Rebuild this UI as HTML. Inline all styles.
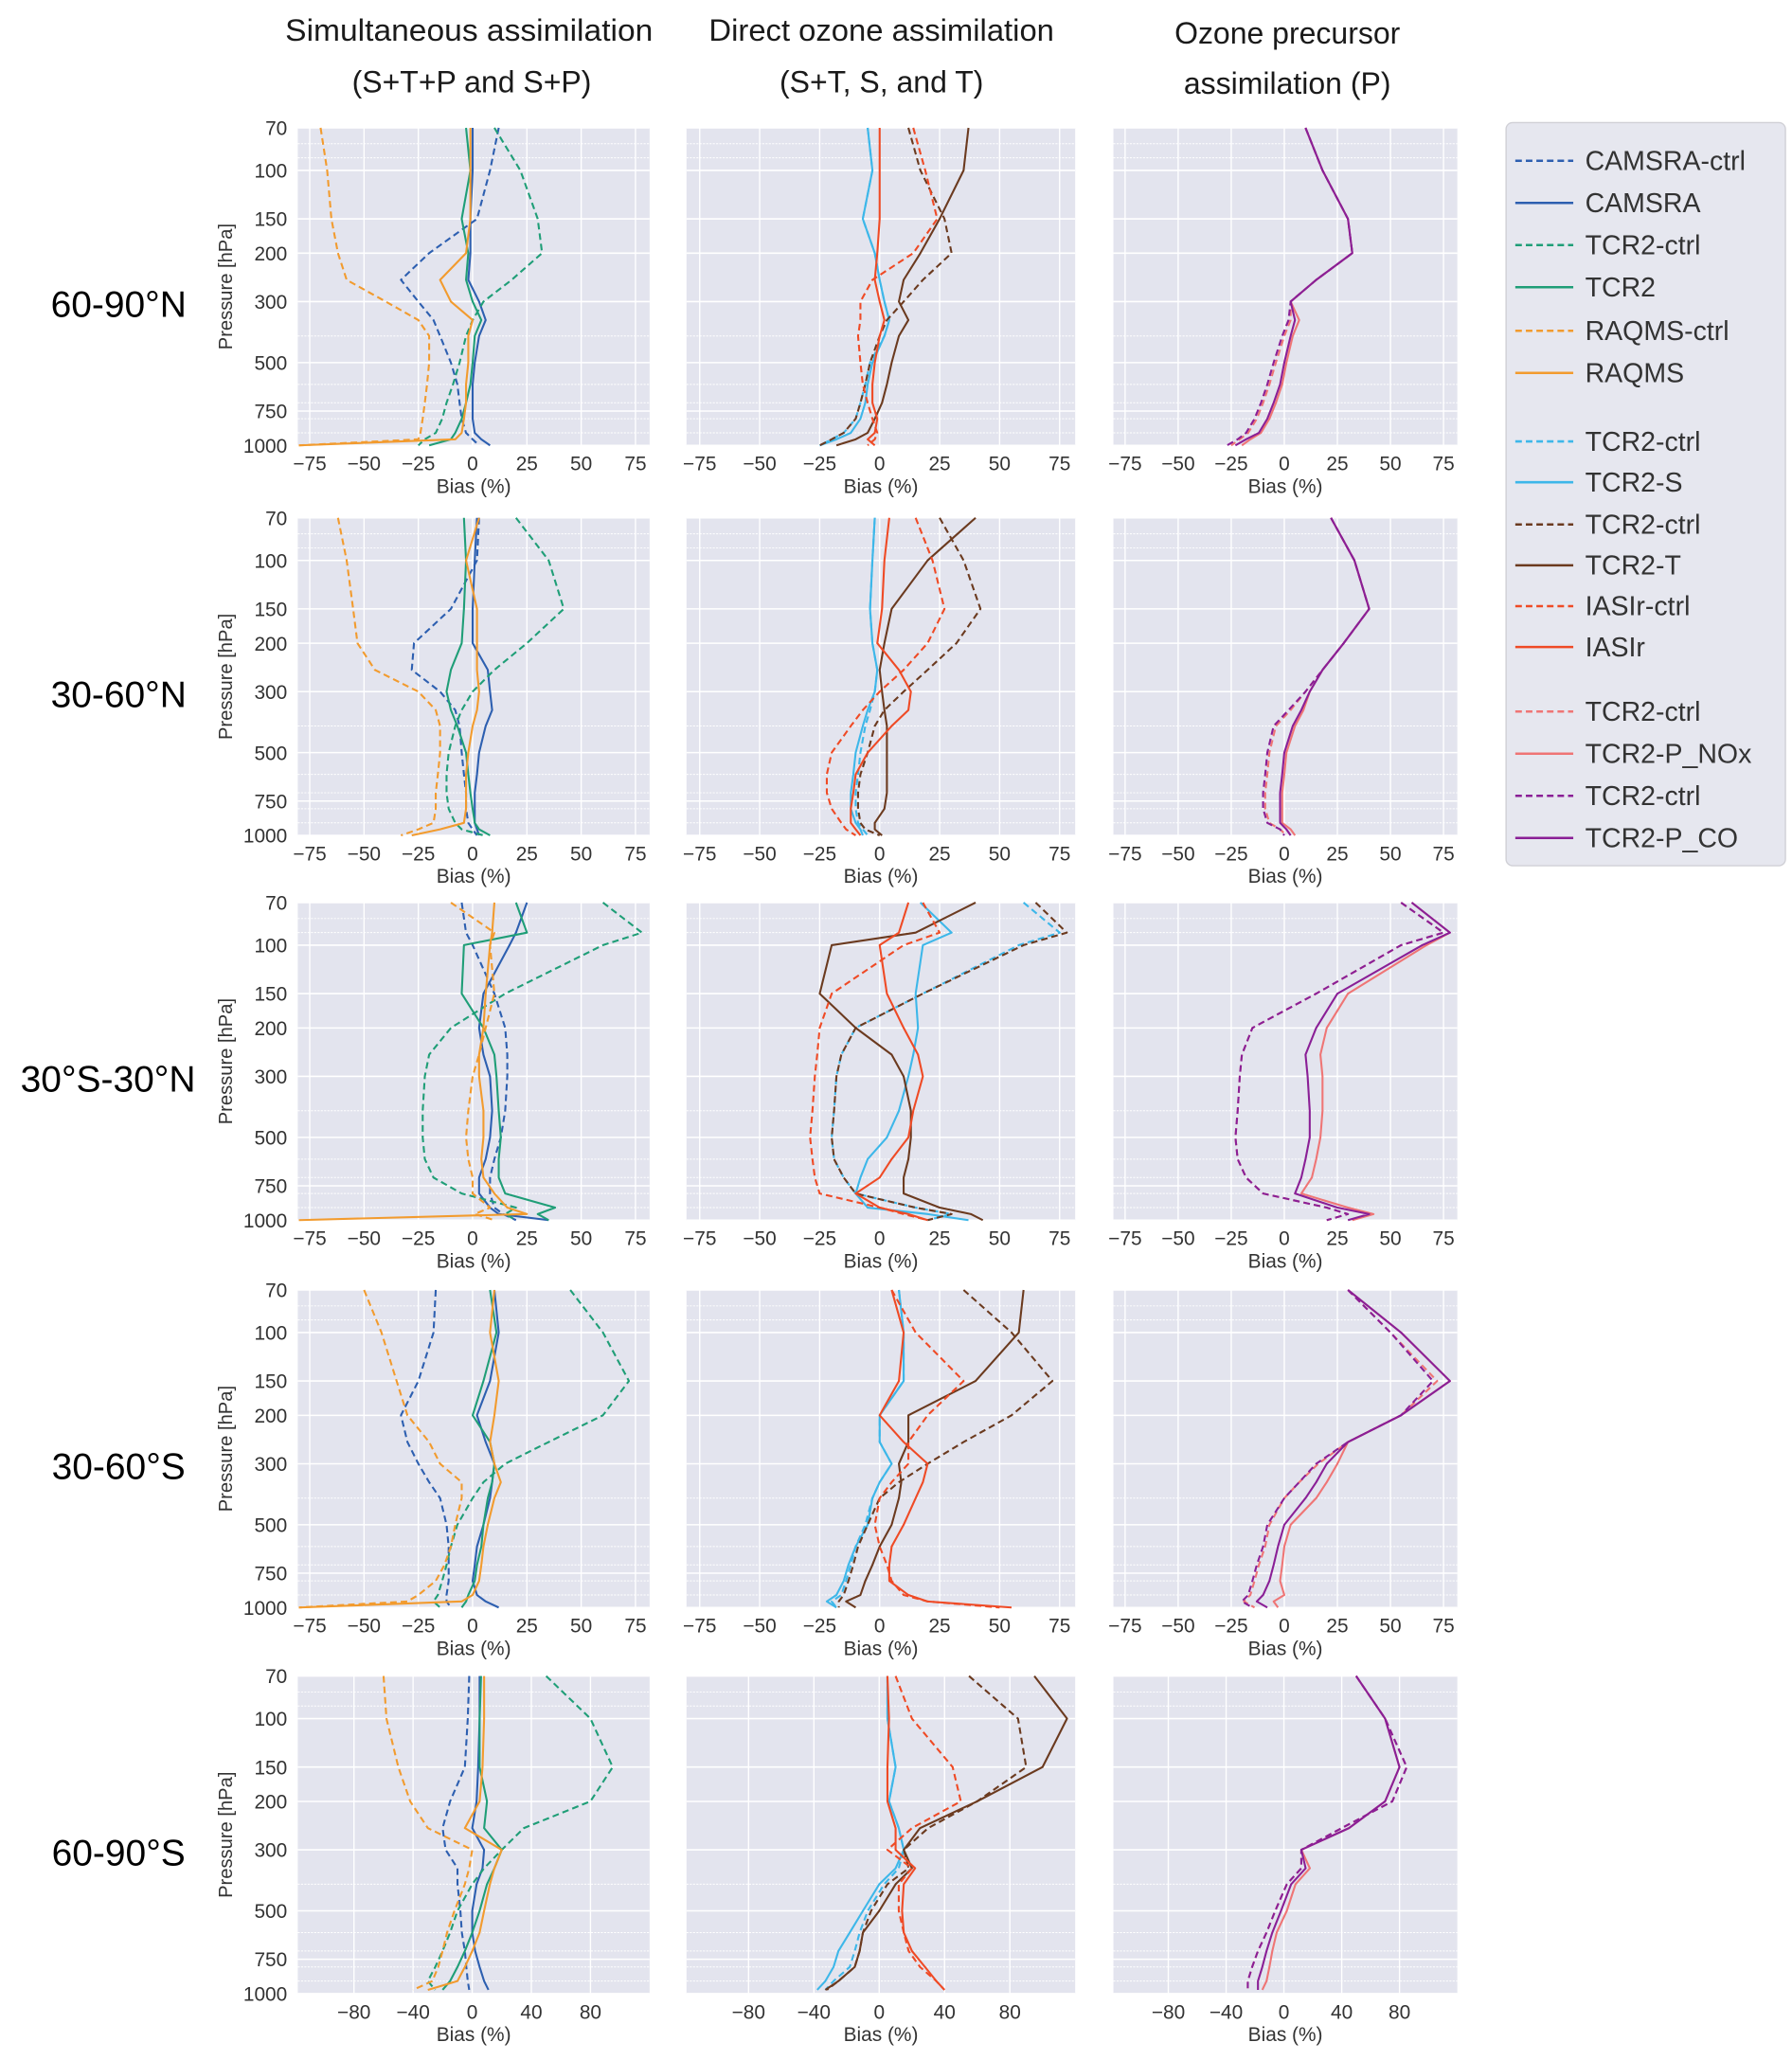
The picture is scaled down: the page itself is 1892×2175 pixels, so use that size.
<!DOCTYPE html>
<html><head><meta charset="utf-8"><style>
html,body{margin:0;padding:0;background:#fff;}
svg{display:block;font-family:"Liberation Sans",Arial,sans-serif;}
</style></head><body>
<svg id="fig" width="1892" height="2175" viewBox="0 0 1360 1563.4" xmlns="http://www.w3.org/2000/svg">
<g fill="#1a1a1a" font-size="23" text-anchor="middle">
<text x="356" y="31" textLength="279" lengthAdjust="spacingAndGlyphs">Simultaneous assimilation</text>
<text x="358" y="70">(S+T+P and S+P)</text>
<text x="669" y="31" textLength="262" lengthAdjust="spacingAndGlyphs">Direct ozone assimilation</text>
<text x="669" y="70">(S+T, S, and T)</text>
<text x="977" y="33">Ozone precursor</text>
<text x="977" y="71">assimilation (P)</text>
</g>
<g id="panels"></g>
<g id="legend"></g>
</svg>
<script>
// pressure levels
const L = [70,100,150,200,250,300,350,400,500,600,700,800,900,950,1000];
const L3 = [70,90,100,150,200,250,300,400,500,600,700,800,900,950,1000];
const L5 = [70,100,150,200,250,300,350,400,500,600,700,800,900,970];
const regions = ["60-90°N","30-60°N","30°S-30°N","30-60°S","60-90°S"];
const pTicks = [70,100,150,200,300,500,750,1000];
const pMinor = [80,90,400,600,700,800,900];
const xTicksA = [-75,-50,-25,0,25,50,75];
const xTicksB = [-80,-40,0,40,80];

// Row 1 (60-90N)
const r1_camsraCtrl = [12,8,2,-20,-33,-25,-18,-15,-10,-7,-6,-5,-3,0,3];
const r1_camsra = [0,0,-1,-1,-2,3,6,3,1,0,0,0,1,4,8];
const r1_tcr2Ctrl = [10,22,30,32,18,5,0,-3,-6,-9,-12,-14,-17,-22,-25];
const r1_tcr2 = [-3,-1,-5,-2,-3,0,4,1,0,-1,-3,-5,-8,-10,-20];
const r1_raqmsCtrl = [-70,-67,-65,-62,-58,-40,-25,-20,-20,-21,-22,-23,-24,-25,-80];
const r1_raqms = [-1,-1,-1,-3,-15,-10,0,-2,-2,-3,-3,-4,-5,-8,-80];
const r1_sCtrl = [-5,-3,-7,-2,0,2,4,2,-4,-6,-8,-10,-15,-20,-25];
const r1_s = [-5,-3,-7,-2,0,2,4,2,-3,-5,-6,-8,-12,-18,-25];
const r1_tCtrl = [12,17,27,30,18,10,3,0,-4,-6,-8,-10,-15,-20,-25];
const r1_t = [37,35,25,17,10,8,12,8,5,3,1,-2,-5,-10,-18];
const r1_iasiCtrl = [14,19,24,14,-3,-8,-8,-9,-8,-7,-5,-3,-1,-2,-5];
const r1_iasi = [0,0,0,-1,-2,0,2,0,-2,-3,-3,-1,-2,-5,-2];
const r1_noxCtrl = [10,18,30,32,15,3,3,0,-4,-7,-10,-13,-17,-21,-25];
const r1_nox = [10,18,30,32,15,3,7,4,1,-1,-4,-7,-11,-16,-20];
const r1_coCtrl = [10,18,30,32,15,3,2,-1,-5,-8,-11,-14,-18,-22,-27];
const r1_co = [10,18,30,32,15,3,5,3,0,-2,-5,-8,-12,-18,-23];

// Row 2 (30-60N)
const r2_camsraCtrl = [3,2,-10,-27,-28,-15,-8,-6,-5,-4,-3,-3,-2,0,2];
const r2_camsra = [2,1,0,0,7,8,9,6,3,2,1,1,1,2,3];
const r2_tcr2Ctrl = [20,35,42,25,10,0,-5,-8,-11,-12,-12,-11,-8,-5,5];
const r2_tcr2 = [-4,-3,-4,-5,-10,-12,-10,-7,-3,-2,-1,0,1,3,8];
const r2_raqmsCtrl = [-62,-58,-55,-53,-45,-25,-17,-15,-15,-16,-17,-17,-18,-25,-33];
const r2_raqms = [3,-3,2,2,2,3,2,0,-2,-3,-3,-3,-4,-15,-28];
const r2_sCtrl = [-2,-3,-4,-3,-1,-2,-4,-6,-8,-9,-10,-10,-9,-7,-5];
const r2_s = [-2,-3,-4,-3,-1,-2,-5,-7,-10,-11,-12,-12,-10,-8,-7];
const r2_tCtrl = [25,35,42,32,20,10,2,-2,-5,-8,-9,-9,-8,-6,0];
const r2_t = [40,20,5,2,0,1,2,3,3,3,3,2,-2,-2,1];
const r2_iasiCtrl = [15,22,27,20,10,0,-7,-12,-20,-22,-22,-20,-16,-14,-10];
const r2_iasi = [4,2,1,-1,8,13,12,5,-5,-10,-11,-12,-12,-10,-8];
const r2_noxCtrl = [22,33,40,28,18,10,3,-4,-7,-8,-9,-9,-7,-2,1];
const r2_nox = [22,33,40,28,18,12,9,5,1,0,-1,-1,-1,3,5];
const r2_coCtrl = [22,33,40,28,18,10,2,-5,-8,-9,-10,-10,-8,-2,0];
const r2_co = [22,33,40,28,18,12,8,4,0,-1,-2,-2,-2,1,3];

// Row 3 (30S-30N)
const r3_camsraCtrl = [-5,-3,0,10,15,16,16,15,13,10,8,8,10,14,20];
const r3_camsra = [25,20,17,5,3,5,8,9,8,6,3,3,8,12,35];
const r3_tcr2Ctrl = [60,78,60,15,-10,-20,-22,-23,-23,-22,-18,-5,20,15,20];
const r3_tcr2 = [20,25,-4,-5,5,10,11,12,13,12,12,15,38,30,35];
const r3_raqmsCtrl = [-10,10,8,10,6,3,0,-2,-3,-2,0,0,8,1,10];
const r3_raqms = [10,9,8,6,5,3,3,5,5,4,5,10,16,25,-80];
const r3_sCtrl = [60,75,58,18,-10,-16,-18,-19,-20,-19,-15,-10,15,30,20];
const r3_s = [17,30,18,15,16,14,12,8,3,-5,-8,-10,-5,20,37];
const r3_tCtrl = [65,78,60,18,-10,-16,-18,-19,-20,-19,-15,-10,15,30,20];
const r3_t = [40,15,-20,-25,-10,5,10,13,13,12,10,10,25,38,43];
const r3_iasiCtrl = [18,25,10,-20,-25,-26,-27,-28,-29,-28,-27,-25,0,10,20];
const r3_iasi = [12,8,0,3,10,16,18,14,12,5,0,-10,0,12,20];
const r3_noxCtrl = [55,75,55,15,-15,-20,-21,-22,-23,-22,-18,-10,20,30,20];
const r3_nox = [60,78,67,30,20,17,18,18,17,15,13,8,30,42,32];
const r3_coCtrl = [55,75,55,15,-15,-20,-21,-22,-23,-22,-18,-10,20,30,20];
const r3_co = [60,78,65,25,15,10,11,12,12,10,8,5,25,40,30];

// Row 4 (30-60S)
const r4_camsraCtrl = [-17,-18,-25,-33,-30,-25,-20,-15,-12,-11,-11,-11,-12,-12,-10];
const r4_camsra = [10,12,8,2,6,10,9,8,5,2,1,0,2,6,12];
const r4_tcr2Ctrl = [45,60,72,60,35,15,5,0,-7,-10,-12,-14,-16,-18,-15];
const r4_tcr2 = [8,11,5,0,8,10,9,7,5,4,2,1,-2,-3,-5];
const r4_raqmsCtrl = [-50,-42,-35,-30,-20,-15,-5,-5,-8,-10,-13,-17,-25,-30,-80];
const r4_raqms = [10,8,12,10,8,10,13,10,7,5,4,3,0,-5,-80];
const r4_sCtrl = [8,10,10,0,0,5,0,-3,-6,-10,-12,-14,-16,-20,-18];
const r4_s = [8,10,10,0,0,5,0,-3,-5,-10,-13,-15,-18,-22,-18];
const r4_tCtrl = [35,55,72,55,35,20,8,0,-5,-9,-11,-13,-15,-17,-17];
const r4_t = [60,58,40,12,12,8,9,8,5,0,-3,-6,-8,-14,-10];
const r4_iasiCtrl = [5,15,35,20,12,12,5,0,-2,0,3,5,10,20,50];
const r4_iasi = [5,10,8,0,10,20,18,15,10,5,4,4,12,20,55];
const r4_noxCtrl = [30,50,72,55,30,16,7,0,-7,-9,-12,-14,-16,-19,-14];
const r4_nox = [30,55,78,55,30,25,20,15,3,0,-1,-2,0,-5,-3];
const r4_coCtrl = [30,50,70,55,30,15,7,0,-8,-10,-13,-15,-17,-20,-15];
const r4_co = [30,55,78,55,30,20,15,10,0,-3,-5,-7,-10,-13,-8];

// Row 5 (60-90S)
const r5_camsraCtrl = [-2,-3,-5,-15,-20,-18,-10,-10,-8,-7,-5,-4,-3,-2];
const r5_camsra = [5,5,4,3,0,8,7,3,0,0,2,5,8,11];
const r5_tcr2Ctrl = [50,80,95,80,35,20,8,0,-10,-15,-20,-25,-30,-25];
const r5_tcr2 = [6,5,5,10,8,20,15,10,5,0,-5,-10,-15,-20];
const r5_raqmsCtrl = [-60,-58,-50,-42,-30,0,-2,-5,-12,-17,-20,-23,-27,-40];
const r5_raqms = [8,8,7,5,-5,20,15,12,8,5,0,-5,-10,-30];
const r5_sCtrl = [5,5,10,6,12,15,12,3,-7,-12,-15,-18,-28,-33];
const r5_s = [5,5,10,6,12,15,10,0,-10,-18,-25,-28,-33,-38];
const r5_tCtrl = [55,85,90,60,30,15,18,5,-5,-10,-12,-15,-25,-32];
const r5_t = [95,115,100,60,25,15,20,10,0,-10,-12,-15,-25,-33];
const r5_iasiCtrl = [10,20,45,50,20,5,20,12,12,15,18,25,35,40];
const r5_iasi = [5,6,5,5,10,10,22,15,14,15,20,28,35,40];
const r5_noxCtrl = [50,70,85,75,40,12,12,2,-6,-12,-18,-22,-25,-25];
const r5_nox = [50,70,80,70,45,12,18,8,2,-5,-8,-10,-12,-15];
const r5_coCtrl = [50,70,85,75,40,12,12,2,-6,-12,-18,-22,-25,-25];
const r5_co = [50,70,80,70,45,12,15,5,-2,-8,-12,-15,-18,-18];

const C = {camsra:"#2d5fb0",tcr2:"#1f9e77",raqms:"#f29b2e",s:"#3db7e9",t:"#6b3a1f",iasi:"#ef4a25",nox:"#ef7575",co:"#8a1f96"};
const DASH = "5,3";

const rowsData = [
 {lev:L, p:[[r1_camsraCtrl,C.camsra,1,"camsra-ctrl"],[r1_camsra,C.camsra,0,"camsra"],[r1_tcr2Ctrl,C.tcr2,1,"tcr2-ctrl"],[r1_tcr2,C.tcr2,0,"tcr2"],[r1_raqmsCtrl,C.raqms,1,"raqms-ctrl"],[r1_raqms,C.raqms,0,"raqms"]],
  q:[[r1_sCtrl,C.s,1,"tcr2-ctrl-s"],[r1_s,C.s,0,"tcr2-s"],[r1_tCtrl,C.t,1,"tcr2-ctrl-t"],[r1_t,C.t,0,"tcr2-t"],[r1_iasiCtrl,C.iasi,1,"iasir-ctrl"],[r1_iasi,C.iasi,0,"iasir"]],
  r:[[r1_noxCtrl,C.nox,1,"tcr2-ctrl-nox"],[r1_nox,C.nox,0,"tcr2-p-nox"],[r1_coCtrl,C.co,1,"tcr2-ctrl-co"],[r1_co,C.co,0,"tcr2-p-co"]]},
 {lev:L, p:[[r2_camsraCtrl,C.camsra,1,"camsra-ctrl"],[r2_camsra,C.camsra,0,"camsra"],[r2_tcr2Ctrl,C.tcr2,1,"tcr2-ctrl"],[r2_tcr2,C.tcr2,0,"tcr2"],[r2_raqmsCtrl,C.raqms,1,"raqms-ctrl"],[r2_raqms,C.raqms,0,"raqms"]],
  q:[[r2_sCtrl,C.s,1,"tcr2-ctrl-s"],[r2_s,C.s,0,"tcr2-s"],[r2_tCtrl,C.t,1,"tcr2-ctrl-t"],[r2_t,C.t,0,"tcr2-t"],[r2_iasiCtrl,C.iasi,1,"iasir-ctrl"],[r2_iasi,C.iasi,0,"iasir"]],
  r:[[r2_noxCtrl,C.nox,1,"tcr2-ctrl-nox"],[r2_nox,C.nox,0,"tcr2-p-nox"],[r2_coCtrl,C.co,1,"tcr2-ctrl-co"],[r2_co,C.co,0,"tcr2-p-co"]]},
 {lev:L3, p:[[r3_camsraCtrl,C.camsra,1,"camsra-ctrl"],[r3_camsra,C.camsra,0,"camsra"],[r3_tcr2Ctrl,C.tcr2,1,"tcr2-ctrl"],[r3_tcr2,C.tcr2,0,"tcr2"],[r3_raqmsCtrl,C.raqms,1,"raqms-ctrl"],[r3_raqms,C.raqms,0,"raqms"]],
  q:[[r3_sCtrl,C.s,1,"tcr2-ctrl-s"],[r3_s,C.s,0,"tcr2-s"],[r3_tCtrl,C.t,1,"tcr2-ctrl-t"],[r3_t,C.t,0,"tcr2-t"],[r3_iasiCtrl,C.iasi,1,"iasir-ctrl"],[r3_iasi,C.iasi,0,"iasir"]],
  r:[[r3_noxCtrl,C.nox,1,"tcr2-ctrl-nox"],[r3_nox,C.nox,0,"tcr2-p-nox"],[r3_coCtrl,C.co,1,"tcr2-ctrl-co"],[r3_co,C.co,0,"tcr2-p-co"]]},
 {lev:L, p:[[r4_camsraCtrl,C.camsra,1,"camsra-ctrl"],[r4_camsra,C.camsra,0,"camsra"],[r4_tcr2Ctrl,C.tcr2,1,"tcr2-ctrl"],[r4_tcr2,C.tcr2,0,"tcr2"],[r4_raqmsCtrl,C.raqms,1,"raqms-ctrl"],[r4_raqms,C.raqms,0,"raqms"]],
  q:[[r4_sCtrl,C.s,1,"tcr2-ctrl-s"],[r4_s,C.s,0,"tcr2-s"],[r4_tCtrl,C.t,1,"tcr2-ctrl-t"],[r4_t,C.t,0,"tcr2-t"],[r4_iasiCtrl,C.iasi,1,"iasir-ctrl"],[r4_iasi,C.iasi,0,"iasir"]],
  r:[[r4_noxCtrl,C.nox,1,"tcr2-ctrl-nox"],[r4_nox,C.nox,0,"tcr2-p-nox"],[r4_coCtrl,C.co,1,"tcr2-ctrl-co"],[r4_co,C.co,0,"tcr2-p-co"]]},
 {lev:L5, p:[[r5_camsraCtrl,C.camsra,1,"camsra-ctrl"],[r5_camsra,C.camsra,0,"camsra"],[r5_tcr2Ctrl,C.tcr2,1,"tcr2-ctrl"],[r5_tcr2,C.tcr2,0,"tcr2"],[r5_raqmsCtrl,C.raqms,1,"raqms-ctrl"],[r5_raqms,C.raqms,0,"raqms"]],
  q:[[r5_sCtrl,C.s,1,"tcr2-ctrl-s"],[r5_s,C.s,0,"tcr2-s"],[r5_tCtrl,C.t,1,"tcr2-ctrl-t"],[r5_t,C.t,0,"tcr2-t"],[r5_iasiCtrl,C.iasi,1,"iasir-ctrl"],[r5_iasi,C.iasi,0,"iasir"]],
  r:[[r5_noxCtrl,C.nox,1,"tcr2-ctrl-nox"],[r5_nox,C.nox,0,"tcr2-p-nox"],[r5_coCtrl,C.co,1,"tcr2-ctrl-co"],[r5_co,C.co,0,"tcr2-p-co"]]}
];

const NS = "http://www.w3.org/2000/svg";
const rowTop = [97,393,685,979,1272];
const PH = 241;
const colX = [[226,493],[521,816],[845,1106]];
const panelsG = document.getElementById("panels");
function mk(tag, attrs, parent){const e=document.createElementNS(NS,tag);for(const k in attrs)e.setAttribute(k,attrs[k]);parent.appendChild(e);return e;}
function yScale(top,p){return top+PH*Math.log(p/70)/Math.log(1000/70);}
function xScale(c,dom,v){return colX[c][0]+(v-dom[0])/(dom[1]-dom[0])*(colX[c][1]-colX[c][0]);}

rowsData.forEach((row,ri)=>{
  const top=rowTop[ri];
  const dom = ri===4?[-118,120]:[-80.5,81.5];
  const ticks = ri===4?xTicksB:xTicksA;
  const lbl = mk("text",{x:ri===2?82:90,y:yScale(top,330)+3,"font-size":28,"text-anchor":"middle",fill:"#000"},panelsG);
  
  
  lbl.textContent=regions[ri];
  ["p","q","r"].forEach((key,ci)=>{
    const g=mk("g",{},panelsG);
    
    
    const x0=colX[ci][0],x1=colX[ci][1];
    const bg=mk("rect",{x:x0,y:top,width:x1-x0,height:PH,fill:"#e3e4ee"},g);
    
    
    pMinor.forEach(p=>{const y=yScale(top,p);const l=mk("line",{x1:x0,x2:x1,y1:y,y2:y,stroke:"#fff","stroke-width":0.7,"stroke-dasharray":"1.5,1"},g);
      
      });
    pTicks.forEach(p=>{const y=yScale(top,p);const l=mk("line",{x1:x0,x2:x1,y1:y,y2:y,stroke:"#fff","stroke-width":1.1},g);
      
      });
    ticks.forEach(t=>{const x=xScale(ci,dom,t);const l=mk("line",{x1:x,x2:x,y1:top,y2:top+PH,stroke:"#fff","stroke-width":1},g);
      
      
      const tl=mk("text",{x:x,y:top+PH+19,"font-size":15,"text-anchor":"middle",fill:"#333"},g);
      
      
      tl.textContent=(t<0?"\u2212"+(-t):String(t));});
    const xt=mk("text",{x:(x0+x1)/2,y:top+PH+36,"font-size":15,"text-anchor":"middle",fill:"#333"},g);
    
    
    xt.textContent="Bias (%)";
    if(ci===0){
      pTicks.forEach(p=>{const t=mk("text",{x:218,y:yScale(top,p)+5.5,"font-size":15,"text-anchor":"end",fill:"#333"},g);
        
        
        t.textContent=String(p);});
      const yt=mk("text",{x:0,y:0,"font-size":14.5,"text-anchor":"middle",fill:"#333",transform:"translate(176,"+(top+PH/2)+") rotate(-90)"},g);
      
      
      yt.textContent="Pressure [hPa]";
    }
    row[key].forEach(s=>{
      const vals=s[0];
      const d=vals.map((v,i)=>(i?"L":"M")+xScale(ci,dom,Math.max(dom[0],Math.min(dom[1],v))).toFixed(1)+","+yScale(top,row.lev[i]).toFixed(1)).join("");
      const a={d:d,fill:"none",stroke:s[1],"stroke-width":1.5,"stroke-linejoin":"round"};
      if(s[2])a["stroke-dasharray"]=DASH;
      const path=mk("path",a,g);
      
      
    });
  });
});

// legend
const legNames = ["CAMSRA-ctrl","CAMSRA","TCR2-ctrl","TCR2","RAQMS-ctrl","RAQMS","TCR2-ctrl","TCR2-S","TCR2-ctrl","TCR2-T","IASIr-ctrl","IASIr","TCR2-ctrl","TCR2-P_NOx","TCR2-ctrl","TCR2-P_CO"];
const legColors = [C.camsra,C.camsra,C.tcr2,C.tcr2,C.raqms,C.raqms,C.s,C.s,C.t,C.t,C.iasi,C.iasi,C.nox,C.nox,C.co,C.co];
const legY = [122,154,186,218,251,283,335,366,398,429,460,491,540,572,604,636];
const legG=document.getElementById("legend");
const box=mk("rect",{x:1143,y:93,width:212,height:564,rx:5,fill:"#e6e7ef",stroke:"#d0d0d6","stroke-width":1},legG);


legNames.forEach((n,i)=>{
  const g=mk("g",{},legG);
  
  
  const a={x1:1150,x2:1194,y1:legY[i],y2:legY[i],stroke:legColors[i],"stroke-width":1.8};
  if(i%2===0)a["stroke-dasharray"]="5,3";
  const l=mk("line",a,g);
  
  
  const t=mk("text",{x:1203,y:legY[i]+7,"font-size":20.5,fill:"#333"},g);
  
  
  t.textContent=n;
});
</script>
</body></html>
